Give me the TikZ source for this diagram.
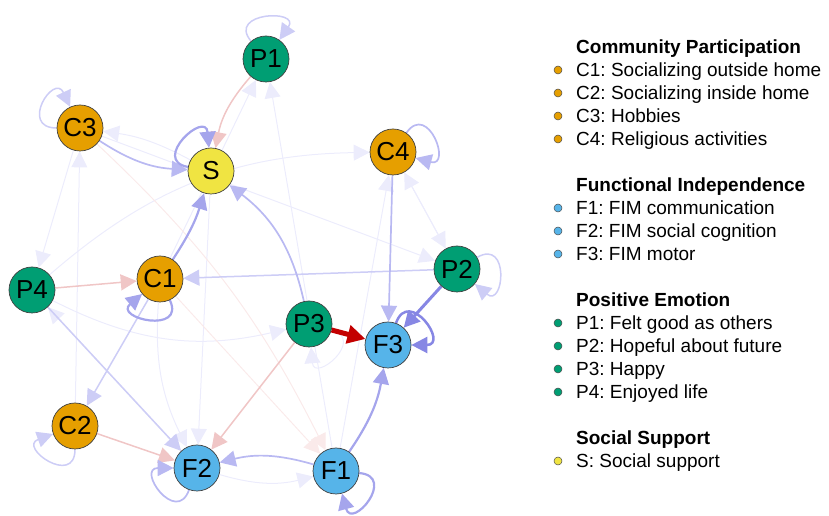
\documentclass[tikz,border=0pt]{standalone}
\usepackage{fontspec}
\setmainfont{Liberation Sans}
\frenchspacing
\usetikzlibrary{arrows.meta,backgrounds}
\definecolor{cpcol}{HTML}{E69F00}
\definecolor{ficol}{HTML}{56B4E9}
\definecolor{pecol}{HTML}{009E73}
\definecolor{sscol}{HTML}{F0E442}
\definecolor{bA}{RGB}{135,135,228}
\definecolor{bB}{RGB}{165,165,236}
\definecolor{bC}{RGB}{185,185,242}
\definecolor{bD}{RGB}{205,205,246}
\definecolor{bE}{RGB}{236,236,252}
\definecolor{rA}{RGB}{195,0,0}
\definecolor{rB}{RGB}{240,198,198}
\definecolor{rE}{RGB}{250,234,234}
\begin{document}
\begin{tikzpicture}[x=1pt,y=1pt,
  nd/.style={circle,draw=black!75,line width=0.7pt,minimum size=46pt,inner sep=0pt,font=\fontsize{26}{26}\selectfont},
  cp/.style={nd,fill=cpcol},
  fi/.style={nd,fill=ficol},
  pe/.style={nd,fill=pecol},
  ss/.style={nd,fill=sscol},
  arr/.style={-{Triangle[length=16pt,width=16pt]}},
  eRed/.style={draw=rA,line width=5pt,-{Triangle[length=18pt,width=18pt]}},
  eA/.style={arr,draw=bA,line width=3pt},
  eB/.style={arr,draw=bB,line width=2.2pt},
  eC/.style={arr,draw=bC,line width=1.7pt},
  eD/.style={arr,draw=bD,line width=1.5pt},
  eE/.style={arr,draw=bE,line width=1pt},
  eRB/.style={arr,draw=rB,line width=1.5pt},
  eRE/.style={arr,draw=rE,line width=1pt},
  lgdot/.style={circle,draw=black!70,line width=0.5pt,minimum size=8pt,inner sep=0pt},
  lgtxt/.style={anchor=base west,inner sep=0pt,font=\fontsize{19}{19}\selectfont},
  lghead/.style={lgtxt,font=\fontsize{19}{19}\selectfont\bfseries}
]
\useasboundingbox (0,0) rectangle (829,516);

% nodes
\node[pe] (P1) at (266,457) {P1};
\node[cp] (C3) at (80,388) {C3};
\node[ss] (S)  at (211,345) {S};
\node[cp] (C4) at (393,364) {C4};
\node[pe] (P2) at (457,247) {P2};
\node[pe] (P4) at (32,226) {P4};
\node[cp] (C1) at (160,237) {C1};
\node[pe] (P3) at (309,192) {P3};
\node[fi] (F3) at (388,171) {F3};
\node[cp] (C2) at (75,90) {C2};
\node[fi] (F2) at (197,48) {F2};
\node[fi] (F1) at (336,45) {F1};

\begin{scope}[on background layer]
% faint edges
\draw[eE] (C2) -- (C3);
\draw[eE] (C3) -- (P4);
\draw[eE] (S) to[bend right=10] (C3);
\draw[eE] (C3) -- (P2);
\draw[eE] (C4) -- (P2);
\draw[eE] (P4) to[bend left=20] (C4);
\draw[eE] (F1) -- (C4);
\draw[eE] (F1) -- (P1);
\draw[eE] (P4) to[bend right=20] (P3);
\draw[eE] (C1) to[bend right=15] (F2);
\draw[eE] (S) -- (F2);
\draw[eE] (F2) to[bend right=15] (F1);
\draw[eE] (P3) to[out=-15,in=-85,distance=36pt] (P3);
\draw[eE] (F2) -- (P4);
\draw[eE] (C1) -- (P1);
\draw[eE] (P2) -- (C4);
\draw[eRE] (C3) to[bend left=10] (F1);
\draw[eRE] (C1) -- (F1);

% visible edges
\draw[eRB] (P1) to[bend right=15] (S);
\draw[eRB] (P4) -- (C1);
\draw[eRB] (C2) -- (F2);
\draw[eRB] (P3) -- (F2);
\draw[eD] (P2) -- (C1);
\draw[eD] (P4) -- (F2);
\draw[eD] (C1) -- (C2);
\draw[eC] (C3) to[bend right=15] (S);
\draw[eC] (P3) to[bend right=20] (S);
\draw[eC] (C4) -- (F3);
\draw[eC] (F1) to[bend right=15] (F2);
\draw[eB] (C1) to[bend right=8] (S);
\draw[eB] (F1) to[bend right=12] (F3);
\draw[eA] (P2) -- (F3);
\draw[eRed] (P3) -- (F3);

% loops
\draw[eB] (S) to[out=170,in=95,distance=38pt] (S);
\draw[eD] (P1) to[out=130,in=55,distance=38pt] (P1);
\draw[eD] (C3) to[out=180,in=115,distance=38pt] (C3);
\draw[eC] (C4) to[out=55,in=-15,distance=38pt] (C4);
\draw[eD] (P2) to[out=30,in=-40,distance=38pt] (P2);
\draw[eA,line width=2.5pt] (F3) to[out=70,in=0,distance=38pt] (F3);
\draw[eB] (C1) to[out=-65,in=-140,distance=38pt] (C1);
\draw[eD] (C2) to[out=-90,in=-160,distance=38pt] (C2);
\draw[eC] (F2) to[out=-110,in=180,distance=38pt] (F2);
\draw[eB] (F1) to[out=-5,in=-75,distance=38pt] (F1);
\end{scope}

% legend
\node[lghead] (h1) at (576,462) {Community Participation};
\node[lgdot,fill=cpcol] (d1) at (558,446) {};
\node[lgtxt] (t1) at (576,439) {C1: Socializing outside home};
\node[lgdot,fill=cpcol] (d2) at (558,423) {};
\node[lgtxt] (t2) at (576,416) {C2: Socializing inside home};
\node[lgdot,fill=cpcol] (d3) at (558,400) {};
\node[lgtxt] (t3) at (576,393) {C3: Hobbies};
\node[lgdot,fill=cpcol] (d4) at (558,377) {};
\node[lgtxt] (t4) at (576,370) {C4: Religious activities};

\node[lghead] (h2) at (576,324) {Functional Independence};
\node[lgdot,fill=ficol] (d5) at (558,308) {};
\node[lgtxt] (t5) at (576,301) {F1: FIM communication};
\node[lgdot,fill=ficol] (d6) at (558,285) {};
\node[lgtxt] (t6) at (576,278) {F2: FIM social cognition};
\node[lgdot,fill=ficol] (d7) at (558,262) {};
\node[lgtxt] (t7) at (576,255) {F3: FIM motor};

\node[lghead] (h3) at (576,209) {Positive Emotion};
\node[lgdot,fill=pecol] (d8) at (558,193) {};
\node[lgtxt] (t8) at (576,186) {P1: Felt good as others};
\node[lgdot,fill=pecol] (d9) at (558,170) {};
\node[lgtxt] (t9) at (576,163) {P2: Hopeful about future};
\node[lgdot,fill=pecol] (d10) at (558,147) {};
\node[lgtxt] (t10) at (576,140) {P3: Happy};
\node[lgdot,fill=pecol] (d11) at (558,124) {};
\node[lgtxt] (t11) at (576,117) {P4: Enjoyed life};

\node[lghead] (h4) at (576,71) {Social Support};
\node[lgdot,fill=sscol] (d12) at (558,55) {};
\node[lgtxt] (t12) at (576,48) {S: Social support};
\end{tikzpicture}
\end{document}
